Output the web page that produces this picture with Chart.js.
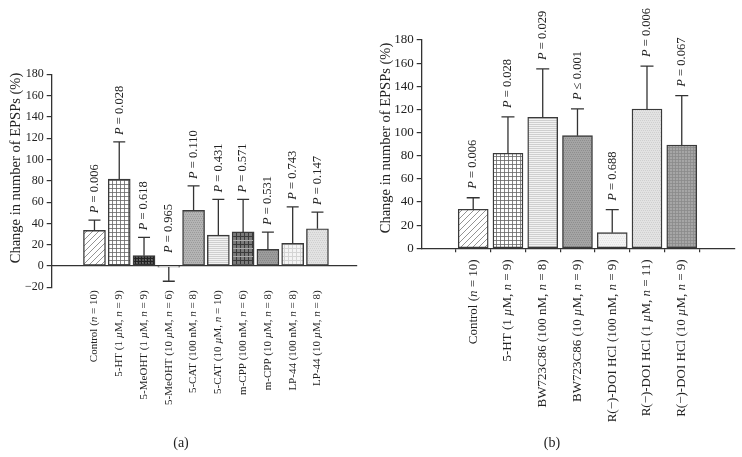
<!DOCTYPE html>
<html>
<head>
<meta charset="utf-8">
<script src="https://cdn.jsdelivr.net/npm/chart.js@4.4.0/dist/chart.umd.min.js"></script>
<style>
  body { margin: 0; background: #fff; }
  #wrap { position: relative; width: 742px; height: 457px; }
  canvas { position: absolute; top: 0; }
  #chartA { left: 0; }
  #chartB { left: 372px; }
</style>
</head>
<body>
<div id="wrap">
  <canvas id="chartA" width="372" height="457" style="width:372px;height:457px"></canvas>
  <canvas id="chartB" width="370" height="457" style="width:370px;height:457px"></canvas>
</div>
<script>
// Panel (a) data ( _x_ = italic )
var labelsA = ['Control (_n_ = 10)', '5-HT (1 _µ_M, _n_ = 9)', '5-MeOHT (1 _µ_M, _n_ = 9)',
    '5-MeOHT (10 _µ_M, _n_ = 6)', '5-CAT (100 nM, _n_ = 8)', '5-CAT (10 _µ_M, _n_ = 10)',
    'm-CPP (100 nM, _n_ = 6)', 'm-CPP (10 _µ_M, _n_ = 8)', 'LP-44 (100 nM, _n_ = 8)', 'LP-44 (10 _µ_M, _n_ = 8)'];
var meansA = [33.5, 81.5, 9.7, -1, 52.2, 29, 32, 15.6, 21.3, 35];
var semA = [9.5, 35, 17.2, 13.3, 23, 33.5, 30.5, 16.3, 34.3, 15.6];
var pA = ['= 0.006', '= 0.028', '= 0.618', '= 0.965', '= 0.110', '= 0.431', '= 0.571', '= 0.531', '= 0.743', '= 0.147'];
var yTicksA = [-20, 0, 20, 40, 60, 80, 100, 120, 140, 160, 180];

// Panel (b) data
var labelsB = ['Control (_n_ = 10)', '5-HT (1 _µ_M, _n_ = 9)', 'BW723C86 (100 nM, _n_ = 8)',
    'BW723C86 (10 _µ_M, _n_ = 9)', 'R(−)-DOI HCl (100 nM, _n_ = 9)', 'R(−)-DOI HCl (1 _µ_M, _n_ = 11)',
    'R(−)-DOI HCl (10 _µ_M, _n_ = 9)'];
var meansB = [33.7, 82.1, 113.2, 97.3, 13.5, 120.4, 89.3];
var semB = [10, 31.4, 41.8, 23.1, 19.9, 37.1, 42.6];
var pB = ['= 0.006', '= 0.028', '= 0.029', '≤ 0.001', '= 0.688', '= 0.006', '= 0.067'];
var yTicksB = [0, 20, 40, 60, 80, 100, 120, 140, 160, 180];

var SERIF = '"Liberation Serif", "DejaVu Serif", serif';

// small pattern tiles for the bar fills
function pattern(size, bg, draw) {
    var c = document.createElement('canvas');
    c.width = size; c.height = size;
    var g = c.getContext('2d');
    g.fillStyle = bg;
    g.fillRect(0, 0, size, size);
    if (draw) draw(g, size);
    return g.createPattern(c, 'repeat');
}
function lines(color, w, step, dir) {
    return function(g, s) {
        g.strokeStyle = color; g.lineWidth = w;
        g.beginPath();
        for (var k = 0; k < s; k += step) {
            if (dir.indexOf('h') >= 0) { g.moveTo(0, k + 0.5); g.lineTo(s, k + 0.5); }
            if (dir.indexOf('v') >= 0) { g.moveTo(k + 0.5, 0); g.lineTo(k + 0.5, s); }
        }
        g.stroke();
    };
}
function dots(color, step) {
    return function(g, s) {
        g.fillStyle = color;
        for (var y = 0; y < s; y += step)
            for (var x = (y / step) % 2 ? 1 : 0; x < s; x += step) g.fillRect(x, y, 1, 1);
    };
}
var hatch = pattern(6, '#fff', function(g) {
    g.strokeStyle = '#888'; g.lineWidth = 0.9;
    g.beginPath();
    g.moveTo(-1, 7); g.lineTo(7, -1);
    g.moveTo(-1, 1); g.lineTo(1, -1);
    g.moveTo(5, 7); g.lineTo(7, 5);
    g.stroke();
});
var grid = pattern(4, '#fff', lines('#666', 0.8, 4, 'hv'));
var darkPlaid = pattern(6, '#555', function(g, s) {
    lines('#222', 1, 3, 'hv')(g, s);
    g.fillStyle = '#777'; g.fillRect(1, 1, 1, 1); g.fillRect(4, 4, 1, 1);
});
var midDots = pattern(4, '#b4b4b4', dots('#9a9a9a', 2));
var lightLines = pattern(4, '#f2f2f2', lines('#cfcfcf', 1, 2, 'h'));
var midPlaid = pattern(8, '#7a7a7a', function(g, s) {
    lines('#3a3a3a', 1, 4, 'hv')(g, s);
    lines('#aaa', 1, 8, 'h')(g, s);
});
var grayDots = pattern(4, '#9c9c9c', dots('#888', 2));
var lightPlaid = pattern(8, '#f4f4f4', lines('#d4d4d4', 1, 4, 'hv'));
var lightDots = pattern(4, '#e2e2e2', dots('#cfcfcf', 2));
var paleFill = pattern(4, '#f3f3f3', dots('#e4e4e4', 2));
var bwDots = pattern(4, '#a4a4a4', dots('#8e8e8e', 2));
var grayGrid = pattern(3, '#a6a6a6', lines('#8a8a8a', 0.8, 3, 'hv'));

var fillsA = [hatch, grid, darkPlaid, '#fff', midDots, lightLines, midPlaid, grayDots, lightPlaid, lightDots];
var fillsB = [hatch, grid, lightLines, bwDots, paleFill, lightDots, grayGrid];

// rich text: parts between underscores are italic
function parts(s) {
    return s.split('_').map(function(t, i) { return { text: t, italic: i % 2 === 1 }; })
        .filter(function(p) { return p.text.length; });
}
function richWidth(ctx, s, size) {
    var w = 0;
    parts(s).forEach(function(p) {
        ctx.font = (p.italic ? 'italic ' : '') + size + 'px ' + SERIF;
        w += ctx.measureText(p.text).width;
    });
    return w;
}
// draws text reading upwards, starting at (cx, yBottom)
function drawUp(ctx, s, cx, yBottom, size) {
    ctx.save();
    ctx.translate(cx, yBottom);
    ctx.rotate(-Math.PI / 2);
    ctx.textBaseline = 'middle';
    ctx.textAlign = 'left';
    ctx.fillStyle = '#222';
    var x = 0;
    parts(s).forEach(function(p) {
        ctx.font = (p.italic ? 'italic ' : '') + size + 'px ' + SERIF;
        ctx.fillText(p.text, x, 0);
        x += ctx.measureText(p.text).width;
    });
    ctx.restore();
}

// error bars, P values, category labels, axis title and caption
var annotate = {
    id: 'annotate',
    afterDatasetsDraw: function(chart, args, o) {
        var ctx = chart.ctx, ys = chart.scales.y, area = chart.chartArea;
        var bars = chart.getDatasetMeta(0).data;
        ctx.save();
        ctx.strokeStyle = '#333';
        ctx.lineWidth = 1.3;
        bars.forEach(function(bar, i) {
            var v = o.means[i], e = o.sem[i];
            var y0 = ys.getPixelForValue(v);
            var y1 = ys.getPixelForValue(v >= 0 ? v + e : v - e);
            ctx.beginPath();
            ctx.moveTo(bar.x, y0); ctx.lineTo(bar.x, y1);
            ctx.moveTo(bar.x - o.cap, y1); ctx.lineTo(bar.x + o.cap, y1);
            ctx.stroke();
            var top = ys.getPixelForValue(v >= 0 ? v + e : 0);
            var gap = v >= 0 ? o.pGap : 13;
            drawUp(ctx, '_P_ ' + o.pvals[i], bar.x, top - gap, o.pSize);
            var w = richWidth(ctx, o.labels[i], o.labelSize);
            drawUp(ctx, o.labels[i], bar.x, area.bottom + o.labelGap + w, o.labelSize);
        });
        // y axis title
        ctx.save();
        ctx.translate(area.left + o.titleDx, o.titleY);
        ctx.rotate(-Math.PI / 2);
        ctx.textAlign = 'center';
        ctx.textBaseline = 'middle';
        ctx.fillStyle = '#222';
        ctx.font = '14.5px ' + SERIF;
        ctx.fillText('Change in number of EPSPs (%)', 0, 0);
        ctx.restore();
        ctx.font = '14px ' + SERIF;
        ctx.textAlign = 'center';
        ctx.textBaseline = 'middle';
        ctx.fillStyle = '#222';
        ctx.fillText(o.caption, o.capX, 443);
        ctx.restore();
    }
};

function makeChart(id, d) {
    var n = d.labels.length;
    return new Chart(document.getElementById(id), {
        type: 'bar',
        data: {
            datasets: [{
                data: d.means.map(function(v, i) { return { x: i, y: v }; }),
                backgroundColor: d.fills,
                borderColor: '#3a3a3a',
                borderWidth: 1.4,
                borderSkipped: false,
                barThickness: d.barW
            }]
        },
        options: {
            responsive: false,
            animation: false,
            events: [],
            layout: { padding: d.padding },
            plugins: {
                legend: { display: false },
                tooltip: { enabled: false },
                annotate: {
                    means: d.means, sem: d.sem, pvals: d.pvals, labels: d.labels,
                    cap: d.cap, pGap: d.pGap, pSize: 12.5, labelSize: d.labelSize,
                    labelGap: d.labelGap, titleDx: -36, titleY: d.titleY,
                    caption: d.caption, capX: d.capX
                }
            },
            scales: {
                x: {
                    type: 'linear',
                    position: d.xPos,
                    min: d.xMin, max: d.xMax,
                    afterBuildTicks: function(s) {
                        s.ticks = d.labels.map(function(l, i) { return { value: i }; });
                    },
                    afterFit: function(s) { if (d.xHeight) s.height = d.xHeight; },
                    ticks: { display: false },
                    grid: { display: d.xTicks, drawOnChartArea: false, tickLength: 4, color: '#333', lineWidth: 1.2 },
                    border: { display: true, color: '#333', width: 1.3 }
                },
                y: {
                    min: d.yTicks[0], max: d.yTicks[d.yTicks.length - 1],
                    afterBuildTicks: function(s) {
                        s.ticks = d.yTicks.map(function(v) { return { value: v }; });
                    },
                    afterFit: function(s) { s.width = d.yWidth; },
                    ticks: {
                        font: { family: SERIF, size: d.yFont },
                        color: '#222',
                        padding: 3,
                        callback: function(v) { return v < 0 ? '−' + Math.abs(v) : String(v); }
                    },
                    grid: { drawOnChartArea: false, tickLength: 5, color: '#333', lineWidth: 1.2 },
                    border: { color: '#333', width: 1.3 }
                }
            }
        },
        plugins: [annotate]
    });
}

window.onload = function() {
    makeChart('chartA', {
        labels: labelsA, means: meansA, sem: semA, pvals: pA, fills: fillsA, yTicks: yTicksA,
        barW: 22, cap: 6, pGap: 7, labelSize: 11, labelGap: 3, yFont: 12,
        xMin: -1.11, xMax: 9.98, xPos: { y: 0 }, xTicks: false, xHeight: 0,
        padding: { top: 74.3, left: 0, right: 15, bottom: 169.7 }, yWidth: 51.7,
        titleY: 168, caption: '(a)', capX: 181
    });
    makeChart('chartB', {
        labels: labelsB, means: meansB, sem: semB, pvals: pB, fills: fillsB, yTicks: yTicksB,
        barW: 30, cap: 6.5, pGap: 9, labelSize: 13, labelGap: 11, yFont: 13,
        xMin: -0.838, xMax: 6.888, xPos: 'bottom', xTicks: true, xHeight: 208.7,
        padding: { top: 40, left: 0, right: 7, bottom: 0 }, yWidth: 49.7,
        titleY: 138, caption: '(b)', capX: 180
    });
};
</script>
</body>
</html>
